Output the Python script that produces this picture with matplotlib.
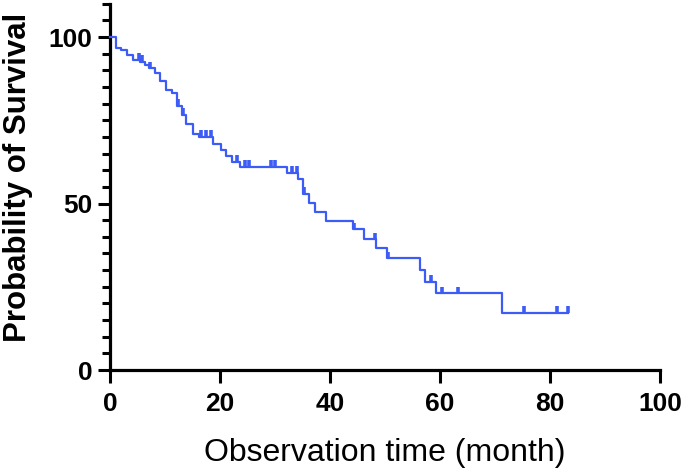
import numpy as np
import matplotlib
matplotlib.use("Agg")
import matplotlib.pyplot as plt
from matplotlib.ticker import MultipleLocator

# Kaplan-Meier steps: time (month) -> survival (%) after the drop
event_t = [0, 1.1, 2.0, 3.0, 4.1, 5.5, 6.4, 7.0, 8.2, 9.1, 10.1, 11.2, 12.1, 13.0,
           13.9, 15.0, 16.1, 18.8, 20.1, 21.1, 22.1, 23.6, 32.1, 34.2, 35.1, 36.1,
           37.3, 39.2, 44.2, 46.2, 48.4, 50.3, 56.4, 57.3, 59.3, 71.3]
event_s = [100, 96.8, 96.0, 94.7, 93.2, 92.5, 91.7, 90.6, 89.3, 86.8, 84.0, 83.3, 79.3,
           76.6, 74.0, 71.0, 70.0, 67.8, 66.0, 64.3, 62.5, 61.0, 59.3, 57.3, 53.0,
           50.3, 47.5, 44.8, 42.3, 39.3, 36.5, 33.5, 30.0, 26.5, 23.0, 17.2]
last_t = 83.3

# censored observations (tick marks)
censor_t = [5.2, 5.9, 7.3, 12.3, 13.2, 16.5, 17.4, 18.4, 23.0, 24.5, 25.2, 29.2,
            30.0, 33.0, 34.0, 35.3, 44.4, 48.2, 50.5, 58.3, 60.3, 63.3, 75.3, 81.3, 83.3]

BLUE = "#3d5cf6"

fig = plt.figure(figsize=(6.85, 4.69), dpi=100)
ax = fig.add_axes([0.1606, 0.211, 0.803, 0.781])

xs = list(event_t) + [last_t]
ys = list(event_s) + [event_s[-1]]
ax.step(xs, ys, where="post", color=BLUE, lw=1.6, clip_on=False, zorder=3)

idx = np.searchsorted(event_t, censor_t, side="right") - 1
cs = np.array(event_s)[idx]
ax.vlines(censor_t, cs, cs + 2.0, color=BLUE, lw=2.6, zorder=3)

ax.set_xlim(0, 100)
ax.set_ylim(0, 110)
ax.set_xticks([0, 20, 40, 60, 80, 100])
ax.set_yticks([0, 50, 100])
ax.yaxis.set_minor_locator(MultipleLocator(5))

for side in ["top", "right"]:
    ax.spines[side].set_visible(False)
for side in ["left", "bottom"]:
    ax.spines[side].set_linewidth(2.3)

ax.tick_params(which="major", length=9, width=2.2, labelsize=19)
ax.tick_params(axis="x", which="major", pad=7)
ax.tick_params(which="minor", length=5.5, width=2.2)
for lab in ax.get_xticklabels() + ax.get_yticklabels():
    lab.set_fontweight("bold")
    lab.set_family("Liberation Sans")

ax.set_xlabel("Observation time (month)", fontsize=23, family="Liberation Sans", labelpad=16)
ax.set_ylabel("Probability of Survival", fontsize=22.5, family="Liberation Sans",
              fontweight="bold")
ax.yaxis.set_label_coords(-0.14, 0.527)

fig.savefig("out.png", dpi=100)
